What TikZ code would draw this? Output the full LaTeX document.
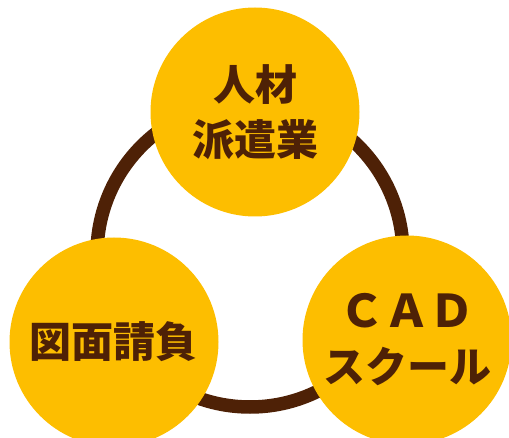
\documentclass[tikz,border=0pt]{standalone}
\usepackage{fontspec}
\newfontfamily\cjk{Noto Sans CJK JP}
\definecolor{ochre}{RGB}{253,190,0}
\definecolor{umber}{RGB}{78,33,6}
\begin{document}
\begin{tikzpicture}[x=1pt,y=-1pt,
  bubble/.style={circle,fill=ochre,minimum size=209pt,inner sep=0pt,
    text=umber,align=center,font=\cjk\bfseries\fontsize{42}{55}\selectfont},
  ringline/.style={draw=umber,line width=13.5pt}]
\useasboundingbox (0,0) rectangle (509,438);
\coordinate (hub) at (250,254);
\draw[ringline] (hub) circle (153);
\node[bubble] (haken) at (255,112) {人材\\派遣業};
\node[bubble] (zumen) at (114,342) {図面請負};
\node[bubble] (cad) at (407,340) {\raisebox{6pt}{\fontsize{45}{55}\selectfont ＣＡＤ}\\[-6pt]スクール};
\end{tikzpicture}
\end{document}
